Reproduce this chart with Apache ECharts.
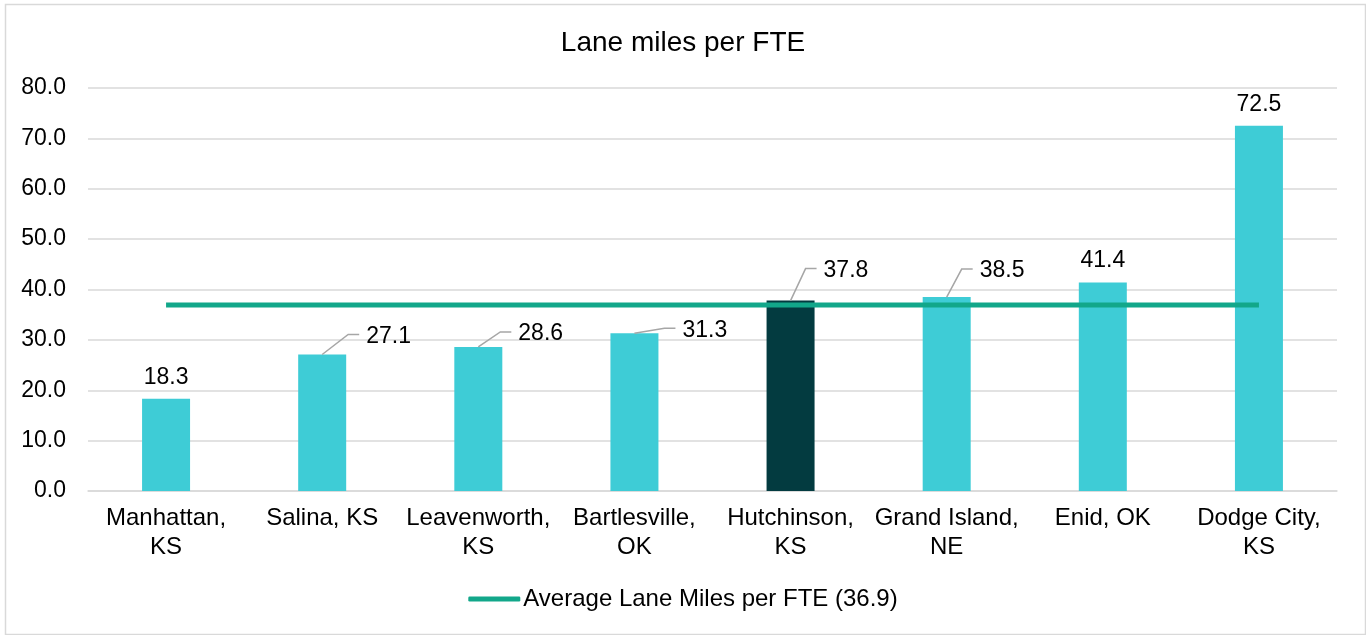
<!DOCTYPE html>
<html>
<head>
<meta charset="utf-8">
<title>Lane miles per FTE</title>
<script src="https://cdn.jsdelivr.net/npm/echarts@6/dist/echarts.min.js"></script>
<style>
  html, body { margin: 0; padding: 0; background: #fff; }
  #chart { width: 1366px; height: 635px; }
</style>
</head>
<body>
<div id="chart"></div>
<script>
// data
const categories = [
  "Manhattan,\nKS", "Salina, KS", "Leavenworth,\nKS", "Bartlesville,\nOK",
  "Hutchinson,\nKS", "Grand Island,\nNE", "Enid, OK", "Dodge City,\nKS"
];
const laneMiles = [18.3, 27.1, 28.6, 31.3, 37.8, 38.5, 41.4, 72.5];
const averageValue = 36.9;
const averageName = "Average Lane Miles per FTE (36.9)";
const highlightIndex = 4; // Hutchinson
const yTicks = { min: 0, max: 80, interval: 10 };

// label placement (leader lines), [dx, dy] from bar top
const leaderOffsets = { 1: [26, -20], 2: [22, -15], 3: [30, -5], 4: [15, -32], 5: [15, -28] };

const FONT = "'Liberation Sans', Arial, sans-serif";
const cyan = "#3ECCD6";
const dark = "#033B40";
const green = "#12A78A";

const chart = echarts.init(document.getElementById("chart"));

const barData = laneMiles.map((v, i) => (
  i === highlightIndex ? { value: v, itemStyle: { color: dark } } : v
));
const avgData = categories.map(() => averageValue);
const labelData = laneMiles.map((v, i) => [i, v]);

function renderLabel(params, api) {
  const i = api.value(0);
  const v = api.value(1);
  const p = api.coord([i, v]);
  const txt = v.toFixed(1);
  const textStyle = { text: txt, fontSize: 23, fontFamily: FONT, fill: "#000" };
  const off = leaderOffsets[i];
  if (!off) {
    return {
      type: "text", x: p[0], y: p[1] - 10,
      style: Object.assign({ align: "center", verticalAlign: "bottom" }, textStyle)
    };
  }
  const a = [p[0] + off[0], p[1] + off[1]];
  const b = [a[0] + 11, a[1]];
  return {
    type: "group",
    children: [
      { type: "polyline", shape: { points: [p, a, b] }, style: { stroke: "#A6A6A6", lineWidth: 1.5, fill: null } },
      { type: "text", x: b[0] + 7, y: b[1] + 2, style: Object.assign({ align: "left", verticalAlign: "middle" }, textStyle) }
    ]
  };
}

const option = {
  animation: false,
  backgroundColor: "#fff",
  title: {
    text: "Lane miles per FTE",
    left: "center",
    top: 24,
    textStyle: { color: "#000", fontSize: 28, fontWeight: "normal", fontFamily: FONT }
  },
  graphic: [{
    type: "rect", left: 3, top: 2,
    shape: { width: 1360, height: 630 },
    style: { fill: null, stroke: "#D9D9D9", lineWidth: 1.5 },
    silent: true
  }],
  legend: {
    data: [averageName],
    top: 582,
    left: "center",
    icon: "roundRect",
    itemWidth: 52,
    itemHeight: 5,
    itemGap: 5,
    textStyle: { color: "#000", fontSize: 24, fontFamily: FONT, padding: [0, 0, 0, -2] }
  },
  grid: { left: 88, right: 29, top: 88, bottom: 144, containLabel: false },
  xAxis: {
    type: "category",
    data: categories,
    axisLine: { lineStyle: { color: "#D9D9D9", width: 1.5 } },
    axisTick: { show: false },
    axisLabel: { color: "#000", fontSize: 24, fontFamily: FONT, lineHeight: 29, margin: 13, interval: 0 }
  },
  yAxis: {
    type: "value",
    min: yTicks.min,
    max: yTicks.max,
    interval: yTicks.interval,
    axisLine: { show: false },
    axisTick: { show: false },
    splitLine: { lineStyle: { color: "#D9D9D9", width: 1.5 } },
    axisLabel: { color: "#000", fontSize: 23, fontFamily: FONT, margin: 22, formatter: v => v.toFixed(1) }
  },
  series: [
    {
      name: "Lane miles per FTE",
      type: "bar",
      barWidth: 48,
      itemStyle: { color: cyan },
      data: barData,
      z: 2
    },
    {
      name: averageName,
      type: "line",
      data: avgData,
      showSymbol: false,
      symbol: "none",
      lineStyle: { color: green, width: 5 },
      itemStyle: { color: green },
      z: 3
    },
    {
      type: "custom",
      data: labelData,
      encode: { x: 0, y: 1 },
      renderItem: renderLabel,
      clip: false,
      silent: true,
      z: 5
    }
  ]
};

chart.setOption(option);
</script>
</body>
</html>
